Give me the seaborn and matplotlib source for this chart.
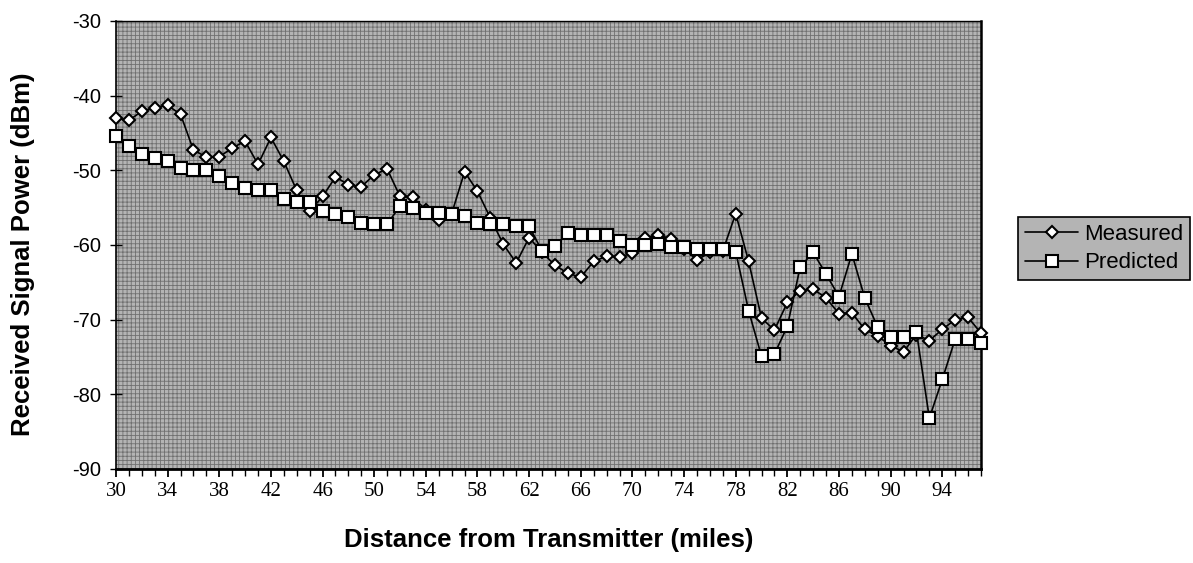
import numpy as np
import pandas as pd
import matplotlib
matplotlib.use("Agg")
import matplotlib.pyplot as plt
import seaborn as sns
from matplotlib.patches import Rectangle
from matplotlib.ticker import MultipleLocator, FixedLocator

# ---------------- data ----------------
distance = list(range(30, 98))

measured = [
    -43.0, -43.3, -42.1, -41.6, -41.3, -42.5, -47.3, -48.2, -48.2, -47.0,   # 30-39
    -46.1, -49.2, -45.6, -48.8, -52.7, -55.5, -53.5, -50.9, -51.9, -52.2,   # 40-49
    -50.6, -49.8, -53.5, -53.6, -55.3, -56.6, -55.8, -50.2, -52.8, -56.4,   # 50-59
    -59.9, -62.4, -59.0, -61.0, -62.7, -63.8, -64.3, -62.2, -61.5, -61.6,   # 60-69
    -61.1, -59.1, -58.6, -59.2, -60.5, -62.0, -61.0, -60.8, -55.8, -62.2,   # 70-79
    -69.8, -71.4, -67.7, -66.1, -65.9, -67.1, -69.2, -69.1, -71.3, -72.2,   # 80-89
    -73.5, -74.3, -72.0, -72.8, -71.3, -70.0, -69.7, -71.8,                 # 90-97
]

predicted = [
    -45.4, -46.7, -47.8, -48.4, -48.8, -49.7, -49.9, -49.9, -50.7, -51.7,   # 30-39
    -52.4, -52.7, -52.7, -53.8, -54.3, -54.3, -55.5, -55.8, -56.2, -57.1,   # 40-49
    -57.2, -57.2, -54.8, -55.1, -55.7, -55.7, -55.9, -56.1, -57.0, -57.2,   # 50-59
    -57.2, -57.5, -57.5, -60.8, -60.2, -58.4, -58.7, -58.7, -58.7, -59.4,   # 60-69
    -60.0, -60.0, -59.9, -60.3, -60.3, -60.6, -60.6, -60.6, -60.9, -68.8,   # 70-79
    -74.9, -74.6, -70.9, -62.9, -61.0, -63.9, -66.9, -61.2, -67.1, -71.0,   # 80-89
    -72.3, -72.3, -71.6, -83.2, -78.0, -72.6, -72.6, -73.1,                 # 90-97
]

series_names = ["Measured", "Predicted"]
x_ticks = list(range(30, 95, 4))
x_tick_labels = [str(v) for v in x_ticks]
y_ticks = [-30, -40, -50, -60, -70, -80, -90]
y_tick_labels = [str(v) for v in y_ticks]

df = pd.DataFrame({
    "Distance": distance * 2,
    "Power": measured + predicted,
    "Series": [series_names[0]] * len(distance) + [series_names[1]] * len(distance),
})

# ---------------- figure ----------------
sns.set_theme(style="white")
plt.rcParams["font.family"] = ["Liberation Sans", "DejaVu Sans"]
plt.rcParams["hatch.linewidth"] = 0.6
for key in ["text.color", "axes.labelcolor", "xtick.color", "ytick.color",
            "xtick.labelcolor", "ytick.labelcolor"]:
    plt.rcParams[key] = "black"

W, H = 1193, 563
fig = plt.figure(figsize=(W / 100, H / 100), dpi=100)
ax = fig.add_axes([116 / W, 1 - 469 / H, 865 / W, 448 / H])

bg = "#b4b4b4"
ax.set_facecolor(bg)
ax.add_patch(Rectangle((0, 0), 1, 1, transform=ax.transAxes, fill=False,
                       hatch="++++", edgecolor="#707070", lw=0, zorder=0.5))

styles = {"Measured": dict(marker="D", markersize=6.2, zorder=3),
          "Predicted": dict(marker="s", markersize=8.8, zorder=4)}
for name in series_names:
    sns.lineplot(data=df[df["Series"] == name], x="Distance", y="Power",
                 ax=ax, color="black", lw=1.2,
                 markerfacecolor="white", markeredgecolor="black", markeredgewidth=1.5,
                 label=name, legend=False, clip_on=False, **styles[name])

ax.set_xlim(30, 97)
ax.set_ylim(-90, -30)
ax.yaxis.set_major_locator(FixedLocator(y_ticks))
ax.set_yticklabels(y_tick_labels, fontsize=14.5, color="black")
ax.xaxis.set_major_locator(FixedLocator(x_ticks))
ax.set_xticklabels(x_tick_labels, fontsize=15, color="black",
                   family=["Liberation Serif", "DejaVu Serif"])
ax.xaxis.set_minor_locator(MultipleLocator(1))

for side in ["left", "bottom", "top", "right"]:
    ax.spines[side].set_visible(True)
    ax.spines[side].set_color("black")
ax.spines["left"].set_linewidth(1.2)
ax.spines["bottom"].set_linewidth(2.0)
ax.spines["top"].set_linewidth(1.0)
ax.spines["right"].set_linewidth(1.8)

ax.tick_params(axis="y", which="major", direction="inout", length=9, width=1.0,
               left=True, pad=6, colors="black")
ax.tick_params(axis="x", which="major", direction="out", length=6, width=1.3,
               bottom=True, pad=3, colors="black")
ax.tick_params(axis="x", which="minor", direction="out", length=5, width=1.0,
               bottom=True, colors="black")

ax.set_xlabel("Distance from Transmitter (miles)", fontsize=18.5, fontweight="bold",
              va="center", color="black")
ax.xaxis.set_label_coords(0.5, -(540 - 469) / 448)
ax.set_ylabel("Received Signal Power (dBm)", fontsize=18.5, fontweight="bold",
              va="center", color="black")
ax.yaxis.set_label_coords(-(116 - 23) / 865, (469 - 254) / 448)

handles, labels = ax.get_legend_handles_labels()
leg = fig.legend(handles, labels, loc="center", bbox_to_anchor=(1104 / W, 1 - 248.5 / H),
                 frameon=True, fancybox=False, framealpha=1, fontsize=16,
                 handlelength=2.4, borderpad=0.3, labelspacing=0.35, handletextpad=0.25,
                 borderaxespad=0, labelcolor="black")
leg.get_frame().set_facecolor(bg)
leg.get_frame().set_edgecolor("black")
leg.get_frame().set_linewidth(1.2)

fig.savefig("out.png", dpi=100)
